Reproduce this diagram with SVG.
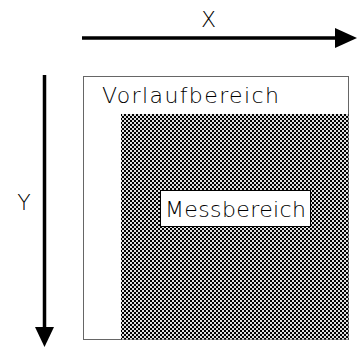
<svg xmlns="http://www.w3.org/2000/svg" width="357" height="347" viewBox="0 0 357 347">
<style>
.lbl{font-family:"DejaVu Sans","Liberation Sans",sans-serif;font-size:22px;font-weight:200;fill:#000}
.ax{stroke:#000;stroke-width:3.5;fill:none}
</style>
<defs>
<pattern id="hatch" x="0" y="0" width="4" height="4" patternUnits="userSpaceOnUse">
<rect width="4" height="4" fill="#000"/>
<rect x="0" y="0" width="2" height="2" fill="#e0e0e0"/>
<rect x="2" y="2" width="2" height="2" fill="#e0e0e0"/>
</pattern>
</defs>
<rect width="357" height="347" fill="#fff"/>
<g id="connectors">
<line class="ax" x1="82" y1="38" x2="337" y2="38"/>
<polygon points="335,28 357,38 335,48" fill="#000"/>
<line class="ax" x1="44.5" y1="75" x2="44.5" y2="329"/>
<polygon points="35,327 54,327 44.5,347" fill="#000"/>
</g>
<g id="label-x"><text class="lbl" x="208.5" y="27" text-anchor="middle">X</text></g>
<g id="label-y"><text class="lbl" x="24" y="210" text-anchor="middle">Y</text></g>
<g id="vorlauf">
<rect x="83.5" y="76.5" width="265" height="263" fill="#fff" stroke="#666" stroke-width="1"/>
<text class="lbl" x="102" y="103" textLength="177" lengthAdjust="spacing">Vorlaufbereich</text>
</g>
<g id="mess">
<rect x="121" y="114" width="227.5" height="225.5" fill="url(#hatch)"/>
<rect x="160.5" y="190.5" width="150" height="36" fill="#fff" stroke="#000" stroke-width="1"/>
<text class="lbl" x="165" y="217" textLength="141" lengthAdjust="spacing">Messbereich</text>
</g>
</svg>
